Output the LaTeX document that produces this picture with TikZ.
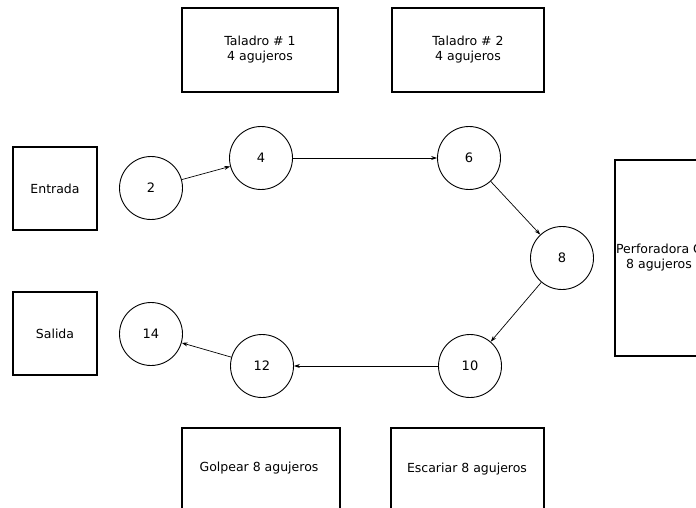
\documentclass[tikz,border=0pt]{standalone}
\usepackage{fontspec}
\setmainfont{DejaVu Sans}
\usetikzlibrary{arrows.meta}
\begin{document}
\begin{tikzpicture}[x=1pt,y=-1pt,
  box/.style={draw, line width=1.1pt, inner sep=0pt, align=center, font=\fontsize{12.5}{15}\selectfont},
  lbl/.style={font=\fontsize{12.5}{15}\selectfont},
  st/.style={draw, circle, line width=0.9pt, minimum size=63pt, inner sep=0pt, font=\fontsize{13}{15}\selectfont},
  flow/.style={draw, line width=0.7pt, -{Stealth[length=6pt,width=4pt]}}]
\useasboundingbox (0,0) rectangle (696,508);
\clip (0,0) rectangle (696,508);
\fill[white] (0,0) rectangle (696,508);
% boxes
\node[box, minimum width=84pt, minimum height=83pt] (entrada) at (55,188.5) {Entrada};
\node[box, minimum width=84pt, minimum height=83pt] (salida) at (55,333.5) {Salida};
\node[box, minimum width=156pt, minimum height=84pt] (t1) at (260,50) {Taladro \# 1\\4 agujeros};
\node[box, minimum width=152pt, minimum height=84pt] (t2) at (468,50) {Taladro \# 2\\4 agujeros};
\node[box, minimum width=88pt, minimum height=196pt] (perf) at (659,258) {Perforadora C\\8 agujeros};
\node[box, minimum width=158pt, minimum height=100pt] (golpear) at (261,478) {};
\node[lbl] (golpeartxt) at (259,468) {Golpear 8 agujeros};
\node[box, minimum width=153pt, minimum height=100pt] (escariar) at (467.5,478) {};
\node[lbl] (escariartxt) at (467,469) {Escariar 8 agujeros};
% states
\node[st] (n2) at (151,188) {2};
\node[st] (n4) at (261,158) {4};
\node[st] (n6) at (469,158) {6};
\node[st] (n8) at (562,258) {8};
\node[st] (n10) at (470,366) {10};
\node[st] (n12) at (262,366) {12};
\node[st] (n14) at (151,334) {14};
% connectors
\draw[flow] (n2) -- (n4);
\draw[flow] (n4) -- (n6);
\draw[flow] (n6) -- (n8);
\draw[flow] (n8) -- (n10);
\draw[flow] (n10) -- (n12);
\draw[flow] (n12) -- (n14);
\end{tikzpicture}
\end{document}
